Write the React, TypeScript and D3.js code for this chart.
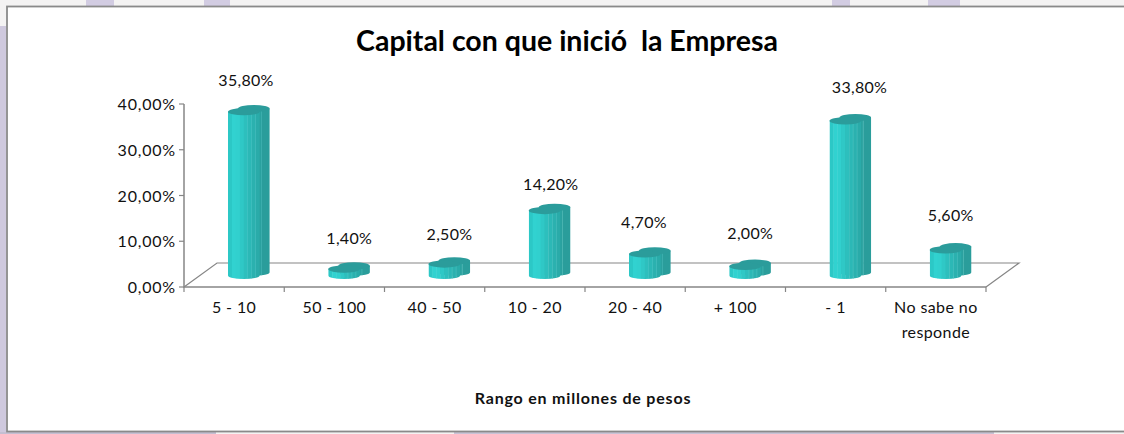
import React from "react";
import * as d3 from "d3";

const categories = ["5 - 10", "50 - 100", "40 - 50", "10 - 20", "20 - 40", "+ 100", "- 1", "No sabe no|responde"];
const values = [35.8, 1.4, 2.5, 14.2, 4.7, 2.0, 33.8, 5.6];
const valueLabels = ["35,80%", "1,40%", "2,50%", "14,20%", "4,70%", "2,00%", "33,80%", "5,60%"];
const yTicks = [0, 10, 20, 30, 40];
const yTickLabels = ["0,00%", "10,00%", "20,00%", "30,00%", "40,00%"];
const title = "Capital con que inició\u00a0 la Empresa";
const xTitle = "Rango en millones de pesos";

// manual placement of the data labels, as in the source chart
const labelNudgeX = [-3, 0, 0, 1, -6, 0, 9, 0];
const labelNudgeY = [-1, 0, 1, 4, -1, -2, -3, -4];

const frontStrips = ["#2cc8c6", "#31d2d0", "#31d0ce", "#2fc8c6", "#2dbfbd", "#2cb8b6", "#2bb1af", "#2aaba9"];
const backStrips = ["#2ba9a7", "#2aa5a3", "#2aa19f", "#2a9d9b"];
const topColor = "#2b9c9b";
const axisColor = "#868686";
const font = "Lato, Carlito, sans-serif";

const W = 1124;
const H = 434;
const x = d3.scaleBand<number>().domain(d3.range(categories.length)).range([184, 986]);
const y = d3.scaleLinear().domain([0, 40]).range([287, 104]);
const depthX = 33;
const depthY = 24;
const baseY = 275.5; // centre of a bar's foot
const barInset = 44;
const rx = 15.8;
const ry = 3.6;
const backDX = 10;
const backDY = -3.2;

function Cylinder({ id, cx, top, bottom, colors }: { id: string; cx: number; top: number; bottom: number; colors: string[] }) {
  const left = cx - rx;
  const sw = (rx * 2) / colors.length;
  return (
    <g>
      <clipPath id={id}>
        <path d={`M${left},${top}V${bottom}A${rx},${ry} 0 0 0 ${cx + rx},${bottom}V${top}Z`} />
      </clipPath>
      <g clipPath={`url(#${id})`}>
        {colors.map((c, i) => (
          <rect key={i} x={left + i * sw} y={top - 1} width={sw + 0.4} height={bottom - top + ry + 2} fill={c} />
        ))}
        {colors.map((_, i) =>
          i > colors.length / 2 ? (
            <line key={i} x1={left + i * sw} x2={left + i * sw} y1={top} y2={bottom + ry} stroke="#6fd3d1" strokeWidth={0.5} opacity={0.7} />
          ) : null
        )}
      </g>
      <ellipse cx={cx} cy={top} rx={rx} ry={ry} fill={topColor} />
    </g>
  );
}

export default function App() {
  const barHeight = (v: number) => y(0) - y(v);
  return (
    <svg width={W} height={H} style={{ position: "absolute", left: 0, top: 0, display: "block" }} fontFamily={font}>
      <rect width={W} height={H} fill="#f4f3f3" />
      <rect x={0} y={26} width={6} height={H - 26} fill="#cfc9de" />
      <rect x={86} y={0} width={28} height={6} fill="#d2cce2" />
      <rect x={204} y={0} width={26} height={6} fill="#d2cce2" />
      <rect x={832} y={0} width={18} height={6} fill="#d2cce2" />
      <rect x={928} y={0} width={32} height={6} fill="#d2cce2" />
      <rect x={0} y={432} width={216} height={2} fill="#c4bfd2" />
      <rect x={454} y={432} width={540} height={2} fill="#c8c3d6" />
      <rect x={7} y={6.5} width={W + 10} height={425} fill="#fff" stroke="#8a8a8a" strokeWidth={1.8} />

      <text x={567} y={51} textAnchor="middle" fontSize={28.5} fontWeight={700} fill="#000">{title}</text>

      <g stroke={axisColor} strokeWidth={1.2} fill="none">
        <path d={`M${x.range()[0]},${y(0)}L${x.range()[0] + depthX},${y(0) - depthY}H${x.range()[1] + depthX}L${x.range()[1]},${y(0)}`} />
        <path d={`M${x.range()[0]},${y(40)}V${y(0)}H${x.range()[1]}`} strokeWidth={1.5} />
        {yTicks.map((t) => (
          <line key={t} x1={x.range()[0] - 5} x2={x.range()[0]} y1={y(t)} y2={y(t)} />
        ))}
        {d3.range(categories.length + 1).map((i) => (
          <line key={i} x1={x.range()[0] + i * x.step()} x2={x.range()[0] + i * x.step()} y1={y(0)} y2={y(0) + 5} />
        ))}
      </g>

      {yTicks.map((t, i) => (
        <text key={t} x={176} y={y(t) + 6} textAnchor="end" fontSize={16} fill="#111" letterSpacing={0.8}>{yTickLabels[i]}</text>
      ))}

      {values.map((v, i) => {
        const cx = (x(i) as number) + barInset + rx;
        const h = barHeight(v);
        return (
          <g key={i}>
            <Cylinder id={`b${i}`} cx={cx + backDX} top={baseY + backDY - h} bottom={baseY + backDY} colors={backStrips} />
            <Cylinder id={`f${i}`} cx={cx} top={baseY - h} bottom={baseY} colors={frontStrips} />
          </g>
        );
      })}

      {values.map((v, i) => (
        <text key={i} x={(x(i) as number) + barInset + 21 + labelNudgeX[i]} y={baseY - barHeight(v) - 25 + labelNudgeY[i]} textAnchor="middle" fontSize={16} fill="#111" letterSpacing={0.3}>
          {valueLabels[i]}
        </text>
      ))}

      {categories.map((c, i) => (
        <text key={i} textAnchor="middle" fontSize={16} fill="#111" letterSpacing={0.4}>
          {c.split("|").map((line, j) => (
            <tspan key={j} x={(x(i) as number) + x.bandwidth() / 2 - (i === 0 ? 0 : 0)} y={313 + j * 25}>{line}</tspan>
          ))}
        </text>
      ))}

      <text x={583} y={404} textAnchor="middle" fontSize={16} fontWeight={700} fill="#111" letterSpacing={0.8}>{xTitle}</text>
    </svg>
  );
}
